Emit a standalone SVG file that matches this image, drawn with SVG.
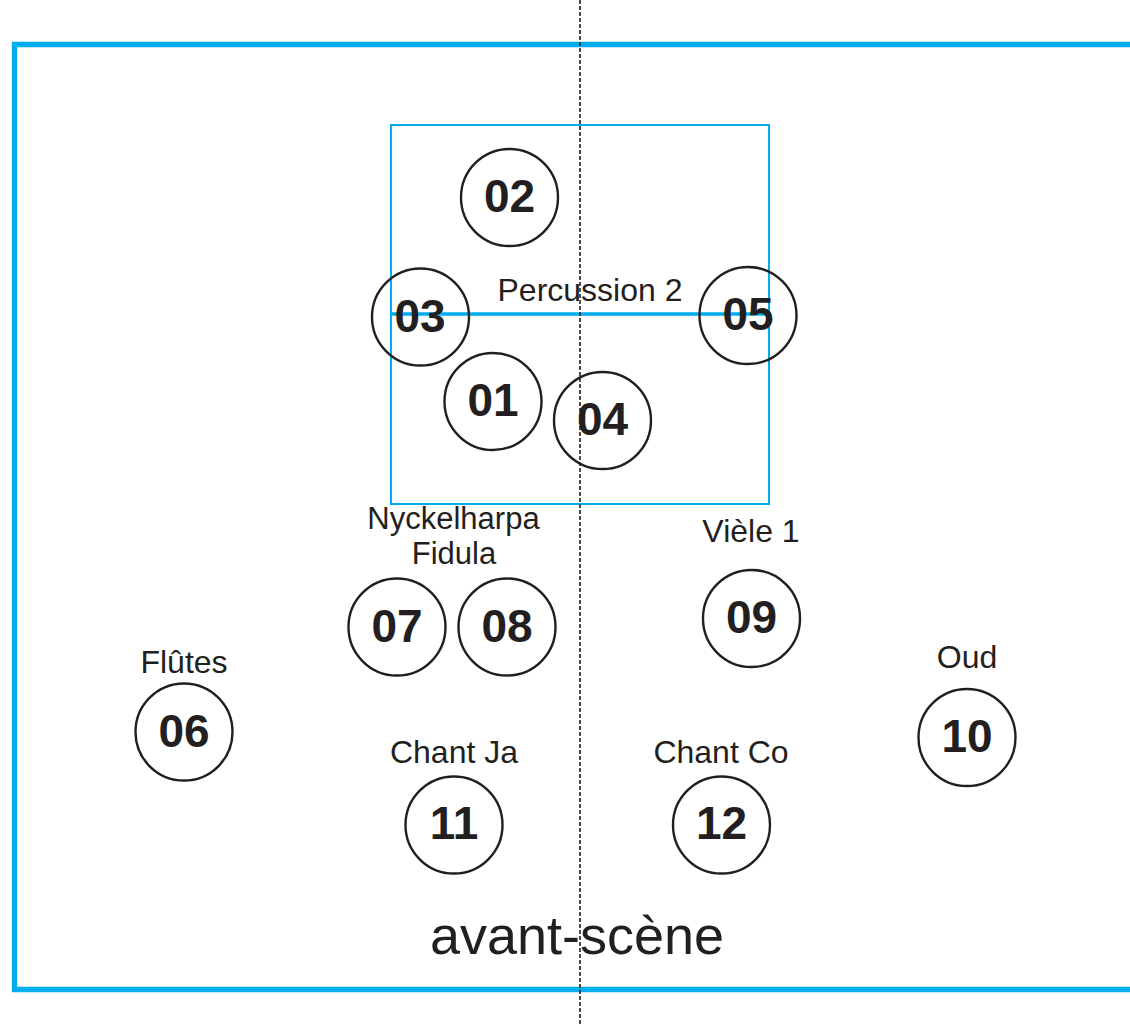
<svg xmlns="http://www.w3.org/2000/svg" width="1130" height="1024" viewBox="0 0 1130 1024">
<style>
.stage{fill:none;stroke:#00aeef;stroke-width:5.3}
.zone{fill:none;stroke:#00aeef;stroke-width:2}
.zline{fill:none;stroke:#00aeef;stroke-width:3.5}
.axis{fill:none;stroke:#231f20;stroke-width:1.6;stroke-dasharray:4 2}
.pos circle{fill:none;stroke:#231f20;stroke-width:2.4}
.num{font-family:"Liberation Sans",Arial,sans-serif;font-weight:bold;font-size:46px;fill:#231f20;text-anchor:middle}
.lbl{font-family:"Liberation Sans",Arial,sans-serif;font-size:32px;fill:#231f20;text-anchor:middle}
.big{font-family:"Liberation Sans",Arial,sans-serif;font-size:54px;fill:#231f20;text-anchor:middle}
</style>
<rect width="1130" height="1024" fill="#ffffff"/>
<path class="stage" d="M1135,44.5 H14.5 V989.5 H1135"/>
<rect class="zone" x="391" y="125" width="378" height="379"/>
<line class="zline" x1="391" y1="314" x2="769" y2="314"/>
<text class="lbl" x="590" y="300.5">Percussion 2</text>
<g id="n02" class="pos"><circle cx="509.5" cy="197.5" r="48.5"/><text class="num" x="509.5" y="212">02</text></g>
<g id="n03" class="pos"><circle cx="420.5" cy="317" r="48.5"/><text class="num" x="420" y="332">03</text></g>
<g id="n05" class="pos"><circle cx="748" cy="315.5" r="48.5"/><text class="num" x="748" y="330">05</text></g>
<g id="n01" class="pos"><circle cx="493" cy="401.5" r="48.5"/><text class="num" x="493" y="416">01</text></g>
<g id="n04" class="pos"><circle cx="602.5" cy="420.5" r="48.5"/><text class="num" x="602.5" y="435">04</text></g>
<text class="lbl" x="453.5" y="529" style="font-size:31px">Nyckelharpa</text>
<text class="lbl" x="454" y="564" style="font-size:31px">Fidula</text>
<g id="n07" class="pos"><circle cx="397" cy="627" r="48.5"/><text class="num" x="397" y="642">07</text></g>
<g id="n08" class="pos"><circle cx="507" cy="627" r="48.5"/><text class="num" x="507" y="642">08</text></g>
<text class="lbl" x="751" y="541.5">Vièle 1</text>
<g id="n09" class="pos"><circle cx="751.5" cy="618.5" r="48.5"/><text class="num" x="751.5" y="633">09</text></g>
<text class="lbl" x="184" y="673">Flûtes</text>
<g id="n06" class="pos"><circle cx="184" cy="732" r="48.5"/><text class="num" x="184" y="747">06</text></g>
<text class="lbl" x="967" y="668">Oud</text>
<g id="n10" class="pos"><circle cx="967" cy="737.5" r="48.5"/><text class="num" x="967" y="752">10</text></g>
<text class="lbl" x="454" y="762.5">Chant Ja</text>
<g id="n11" class="pos"><circle cx="454" cy="825" r="48.5"/><text class="num" x="454" y="839">11</text></g>
<text class="lbl" x="721" y="763">Chant Co</text>
<g id="n12" class="pos"><circle cx="721.5" cy="825" r="48.5"/><text class="num" x="721.5" y="839">12</text></g>
<text class="big" x="577" y="954">avant-scène</text>
<g id="connectors"><line class="axis" x1="580" y1="0" x2="580" y2="1024"/></g>
</svg>
